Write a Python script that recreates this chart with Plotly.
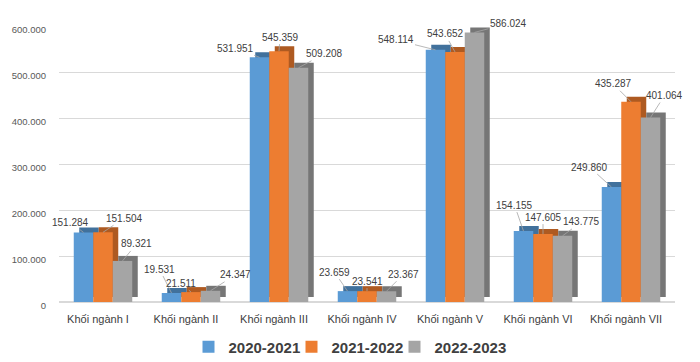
import plotly.graph_objects as go

categories = ["Khối ngành I", "Khối ngành II", "Khối ngành III", "Khối ngành IV",
              "Khối ngành V", "Khối ngành VI", "Khối ngành VII"]
series_names = ["2020-2021", "2021-2022", "2022-2023"]
v_2020_2021 = [151284, 19531, 531951, 23659, 548114, 154155, 249860]
v_2021_2022 = [151504, 21511, 545359, 23541, 543652, 147605, 435287]
v_2022_2023 = [89321, 24347, 509208, 23367, 586024, 143775, 401064]
tick_vals = [0, 100000, 200000, 300000, 400000, 500000, 600000]
tick_text = ["0", "100.000", "200.000", "300.000", "400.000", "500.000", "600.000"]

series = [v_2020_2021, v_2021_2022, v_2022_2023]
front_colors = ["#5B9BD5", "#ED7D31", "#A5A5A5"]
depth_colors = ["#41719C", "#AE5A21", "#767676"]

# label offsets (px) per category, per series
label_dx = [[-13, 21, 14], [-12, -10, 25], [-24, 1, 26], [-13, 0, 17],
            [-40, -10, 34], [-9, 0, 19], [-22, -18, 14]]
label_dy = [[-10, -14, -17], [-24, -9, -16], [-9, -14, -14], [-19, -10, -17],
            [-10, -18, -9], [-26, -17, -14], [-20, -18, -22]]

W, H = 700, 362
ml, mr, mt, mb = 59, 25, 26, 60
px_per_cat = (W - ml - mr) / len(categories)
bw = 19.5 / px_per_cat          # bar width in category units
dx = 5.5 / px_per_cat           # depth shift x
ymax = 600000
plot_h = H - mt - mb
dy = 5 * ymax / plot_h          # depth shift y in data units

fig = go.Figure()
# depth (side/top faces)
for j, vals in enumerate(series):
    fig.add_trace(go.Bar(
        x=categories, y=vals, base=[dy] * len(vals),
        width=bw, offset=(j - 1.5) * bw + dx,
        marker=dict(color=depth_colors[j], line=dict(width=0)),
        showlegend=False, hoverinfo="skip"))
# front faces
for j, vals in enumerate(series):
    fig.add_trace(go.Bar(
        x=categories, y=vals, name=series_names[j],
        width=bw, offset=(j - 1.5) * bw,
        marker=dict(color=front_colors[j], line=dict(width=0))))

annotations = []
for i, cat in enumerate(categories):
    for j, vals in enumerate(series):
        annotations.append(dict(
            x=i + (j - 1) * bw, y=vals[i], xref="x", yref="y",
            text=f"{vals[i]:,}".replace(",", "."),
            showarrow=True, arrowhead=0, arrowwidth=0.8, arrowcolor="#A6A6A6",
            ax=label_dx[i][j], ay=label_dy[i][j], standoff=0,
            font=dict(family="Liberation Sans, Arial", size=10, color="#404040")))

fig.update_layout(
    width=W, height=H,
    margin=dict(l=ml, r=mr, t=mt, b=mb, autoexpand=False),
    barmode="overlay",
    paper_bgcolor="white", plot_bgcolor="white",
    annotations=annotations,
    legend=dict(orientation="h", x=(343 - ml) / (W - ml - mr), xanchor="center",
                y=-45 / plot_h, yanchor="middle", traceorder="normal",
                itemwidth=30, entrywidth=58,
                font=dict(family="Liberation Sans, Arial", size=15, color="#404040",
                          weight="bold")),
    xaxis=dict(type="category", showgrid=False, showline=False, ticks="",
               automargin=False,
               tickfont=dict(family="Liberation Sans, Arial", size=11, color="#404040"),
               ticklabelstandoff=9, ticklabelshift=-5, range=[-0.5, 6.5]),
    yaxis=dict(range=[0, ymax], tickvals=tick_vals, ticktext=tick_text,
               automargin=False,
               showgrid=True, gridcolor="#D9D9D9", gridwidth=1, zeroline=True,
               zerolinecolor="#D9D9D9", showline=False, ticks="",
               ticklabelstandoff=12, ticklabelshift=4,
               tickfont=dict(family="Liberation Sans, Arial", size=9.5, color="#595959")),
)

post = ("document.body.style.margin='0';document.body.style.overflow='hidden';"
        "document.querySelectorAll('.legend .scrollbox').forEach(function(e){"
        "e.removeAttribute('clip-path');e.style.clipPath='none';});")
fig.write_html("out.html", config={"displayModeBar": False}, post_script=post)
